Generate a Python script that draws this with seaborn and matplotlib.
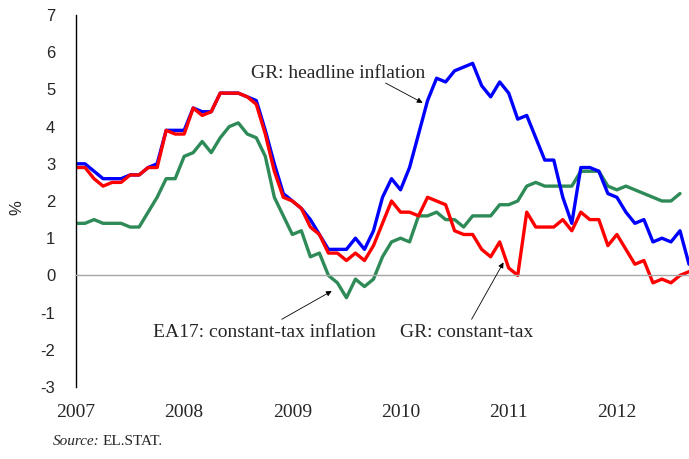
import numpy as np
import pandas as pd
import matplotlib
matplotlib.use('Agg')
import matplotlib.pyplot as plt
import seaborn as sns

# monthly observations, Jan 2007 onwards
months = pd.date_range('2007-01-01', '2012-09-01', freq='MS')

gr_headline = [3.0, 3.0, 2.8, 2.6, 2.6, 2.6, 2.7, 2.7, 2.9, 3.0, 3.9, 3.9,
               3.9, 4.5, 4.4, 4.4, 4.9, 4.9, 4.9, 4.8, 4.7, 3.9, 3.0, 2.2,
               2.0, 1.8, 1.5, 1.1, 0.7, 0.7, 0.7, 1.0, 0.7, 1.2, 2.1, 2.6,
               2.3, 2.9, 3.8, 4.7, 5.3, 5.2, 5.5, 5.6, 5.7, 5.1, 4.8, 5.2,
               4.9, 4.2, 4.3, 3.7, 3.1, 3.1, 2.1, 1.4, 2.9, 2.9, 2.8, 2.2,
               2.1, 1.7, 1.4, 1.5, 0.9, 1.0, 0.9, 1.2, 0.3]

gr_constant_tax = [2.9, 2.9, 2.6, 2.4, 2.5, 2.5, 2.7, 2.7, 2.9, 2.9, 3.9, 3.8,
                   3.8, 4.5, 4.3, 4.4, 4.9, 4.9, 4.9, 4.8, 4.6, 3.8, 2.8, 2.1,
                   2.0, 1.8, 1.3, 1.1, 0.6, 0.6, 0.4, 0.6, 0.4, 0.8, 1.4, 2.0,
                   1.7, 1.7, 1.6, 2.1, 2.0, 1.9, 1.2, 1.1, 1.1, 0.7, 0.5, 0.9,
                   0.2, 0.0, 1.7, 1.3, 1.3, 1.3, 1.5, 1.2, 1.7, 1.5, 1.5, 0.8,
                   1.1, 0.7, 0.3, 0.4, -0.2, -0.1, -0.2, 0.0, 0.1]

ea17_constant_tax = [1.4, 1.4, 1.5, 1.4, 1.4, 1.4, 1.3, 1.3, 1.7, 2.1, 2.6, 2.6,
                     3.2, 3.3, 3.6, 3.3, 3.7, 4.0, 4.1, 3.8, 3.7, 3.2, 2.1, 1.6,
                     1.1, 1.2, 0.5, 0.6, 0.0, -0.2, -0.6, -0.1, -0.3, -0.1, 0.5, 0.9,
                     1.0, 0.9, 1.6, 1.6, 1.7, 1.5, 1.5, 1.3, 1.6, 1.6, 1.6, 1.9,
                     1.9, 2.0, 2.4, 2.5, 2.4, 2.4, 2.4, 2.4, 2.8, 2.8, 2.8, 2.4,
                     2.3, 2.4, 2.3, 2.2, 2.1, 2.0, 2.0, 2.2]

series_names = ['EA17: constant-tax inflation', 'GR: headline inflation', 'GR: constant-tax']
series_values = [ea17_constant_tax, gr_headline, gr_constant_tax]
palette = {'EA17: constant-tax inflation': '#2e8b57',
           'GR: headline inflation': '#0000ff',
           'GR: constant-tax': '#ff0000'}
year_labels = ['2007', '2008', '2009', '2010', '2011', '2012']

frames = []
for name, vals in zip(series_names, series_values):
    frames.append(pd.DataFrame({'month': months[:len(vals)], 'value': vals, 'series': name}))
df = pd.concat(frames, ignore_index=True)
df['year'] = df.month.dt.year + (df.month.dt.month - 1) / 12

sns.set_style('white')
plt.rcParams['font.family'] = ['Liberation Serif', 'DejaVu Serif']
plt.rcParams['axes.unicode_minus'] = False

fig = plt.figure(figsize=(6.89, 4.59), dpi=100)
ax = fig.add_axes([76 / 689, 1 - 387 / 459, 1 - 76 / 689, (387 - 15) / 459])

sns.lineplot(data=df, x='year', y='value', hue='series', hue_order=series_names,
             palette=palette, linewidth=2.4, legend=False, ax=ax)

ax.set_xlim(2007, 2012 + 8 / 12)
ax.set_ylim(-3, 7)
ax.set_yticks(range(-3, 8))
ax.set_xticks([int(y) for y in year_labels])
ax.set_xlabel('')
ax.set_ylabel('')

for s in ['top', 'right']:
    ax.spines[s].set_visible(False)
ax.spines['left'].set_color('black')
ax.spines['left'].set_linewidth(1.0)
ax.spines['bottom'].set_position(('data', 0))
ax.spines['bottom'].set_color('#a6a6a6')
ax.spines['bottom'].set_linewidth(1.0)

ax.tick_params(axis='x', direction='out', length=4, color='#a6a6a6', labelbottom=False)
ax.tick_params(axis='y', direction='out', length=4, color='#a6a6a6', pad=11, labelsize=12)
for lab in ax.get_yticklabels():
    lab.set_family('Liberation Sans')

# year labels sit below the plot, not at the zero line
for lab in year_labels:
    ax.text(int(lab), -0.046, lab, transform=ax.get_xaxis_transform(),
            ha='center', va='top', fontsize=14)

fig.text(17 / 689, 1 - 208 / 459, '%', rotation=90, ha='center', va='center',
         fontsize=12, family='Liberation Sans')

arrow = dict(arrowstyle='-|>', color='black', lw=0.6, mutation_scale=8, shrinkA=0, shrinkB=0)
ax.annotate('', xy=(2010.204, 4.64), xytext=(2009.862, 5.17), arrowprops=arrow)
ax.text(2008.616, 5.31, 'GR: headline inflation', fontsize=14, ha='left', va='baseline')

ax.annotate('', xy=(2009.364, -0.42), xytext=(2008.902, -1.18), arrowprops=arrow)
ax.text(2007.711, -1.66, 'EA17: constant-tax inflation', fontsize=14, ha='left', va='baseline')

ax.annotate('', xy=(2010.952, 0.35), xytext=(2010.657, -1.18), arrowprops=arrow)
ax.text(2009.998, -1.66, 'GR: constant-tax', fontsize=14, ha='left', va='baseline')

src = fig.text(53 / 689, 1 - 445 / 459, 'Source:', fontsize=11, style='italic', ha='left', va='baseline')
ax.annotate('EL.STAT.', xy=(1, 0), xycoords=src, xytext=(2, 0), textcoords='offset points',
            fontsize=11, ha='left', va='bottom', annotation_clip=False)

fig.savefig('out.png', dpi=100)
